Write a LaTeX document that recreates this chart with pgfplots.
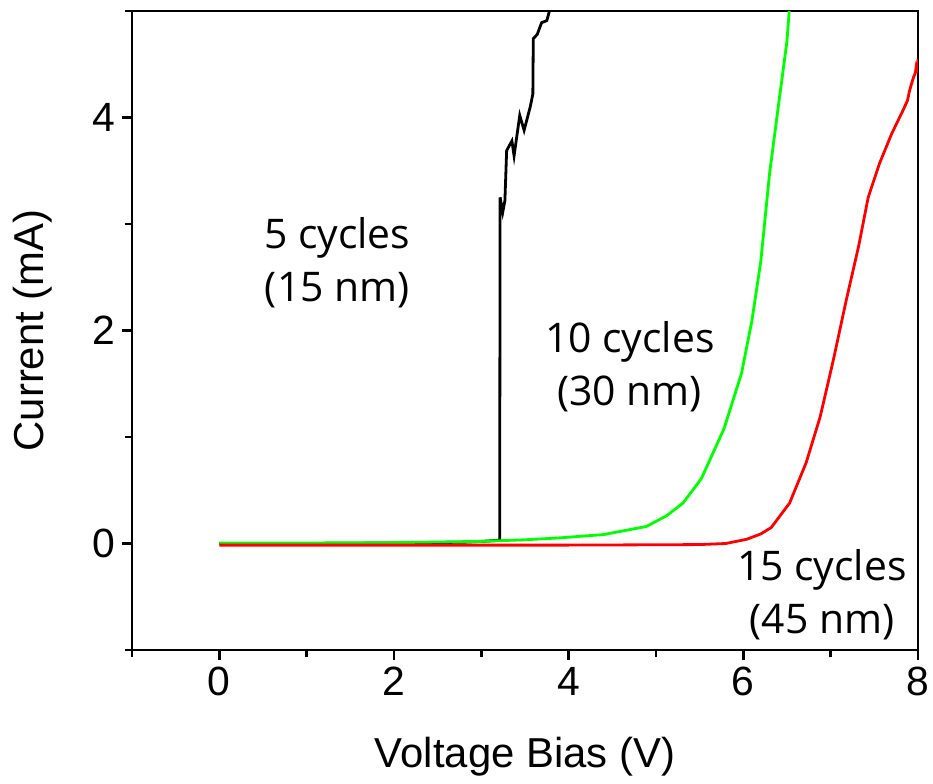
\documentclass[border=0pt]{standalone}
\usepackage{fontspec}
\setmainfont{Liberation Sans}
\newfontfamily\annot{Open Sans}
\usepackage{pgfplots}
\pgfplotsset{compat=1.18}
\begin{document}
\begin{tikzpicture}
\begin{axis}[
  name=ax, at={(0,0)}, anchor=south west,
  scale only axis, width=393bp, height=319.5bp,
  xmin=-1, xmax=8, ymin=-1, ymax=5,
  xtick={0,2,4,6,8}, ytick={0,2,4},
  minor xtick={-1,1,3,5,7}, minor ytick={-1,1,3,5},
  tick pos=left, tick align=outside,
  major tick length=5bp, minor tick length=3.5bp,
  every tick/.style={black, line width=1.2bp},
  axis line style={line width=1.3bp},
  /pgf/number format/assume math mode=true,
  ticklabel style={font=\fontsize{20.5}{24}\selectfont},
  xlabel={Voltage Bias (V)}, ylabel={Current (mA)},
  label style={font=\fontsize{21}{25}\selectfont},
  xlabel style={yshift=-14bp},
  ylabel style={yshift=13bp},
  clip=true,
]
\addplot[black, line width=1.4bp] coordinates {
(0,0.0) (1,0.0) (2,0.005) (2.8,0.012) (3.0,0.02) (3.21,0.03) (3.215,3.25)
(3.245,3.11) (3.27,3.22) (3.29,3.69) (3.35,3.78) (3.375,3.64) (3.44,4.02)
(3.49,3.88) (3.56,4.10) (3.59,4.22) (3.595,4.74) (3.64,4.78) (3.69,4.89)
(3.75,4.91) (3.78,5.0) (3.8,5.05)
};
\addplot[green, line width=1.4bp] coordinates {
(0,0.005) (1,0.005) (2,0.008) (3,0.02) (3.5,0.035) (3.9,0.053) (4.4,0.084)
(4.89,0.16) (5.12,0.26) (5.31,0.38) (5.52,0.61) (5.78,1.08) (5.98,1.6)
(6.10,2.1) (6.20,2.65) (6.30,3.47) (6.40,4.10) (6.50,4.72) (6.53,5.05)
};
\addplot[red, line width=1.4bp] coordinates {
(0,-0.015) (2,-0.015) (4,-0.015) (5,-0.012) (5.5,-0.01) (5.8,0.0) (6.04,0.04)
(6.2,0.09) (6.32,0.15) (6.53,0.38) (6.72,0.76) (6.88,1.19) (7.03,1.72)
(7.18,2.29) (7.32,2.79) (7.43,3.25) (7.56,3.57) (7.70,3.85) (7.83,4.07)
(7.88,4.16) (7.9,4.24) (7.92,4.30) (7.95,4.38) (7.97,4.42) (7.98,4.48)
(7.99,4.46) (8.0,4.55)
};
\node[align=center, font=\annot\fontsize{20.5}{26.5}\selectfont] at (axis cs:1.35,2.64) {5 cycles\\(15 nm)};
\node[align=center, font=\annot\fontsize{20.5}{26.5}\selectfont] at (axis cs:4.70,1.66) {10 cycles\\(30 nm)};
\node[align=center, font=\annot\fontsize{20.5}{26.5}\selectfont] at (axis cs:6.90,-0.48) {15 cycles\\(45 nm)};
\end{axis}
\pgfresetboundingbox
\path[use as bounding box] (-66bp,-67bp) rectangle (400.5bp,325bp);
\end{tikzpicture}
\end{document}
